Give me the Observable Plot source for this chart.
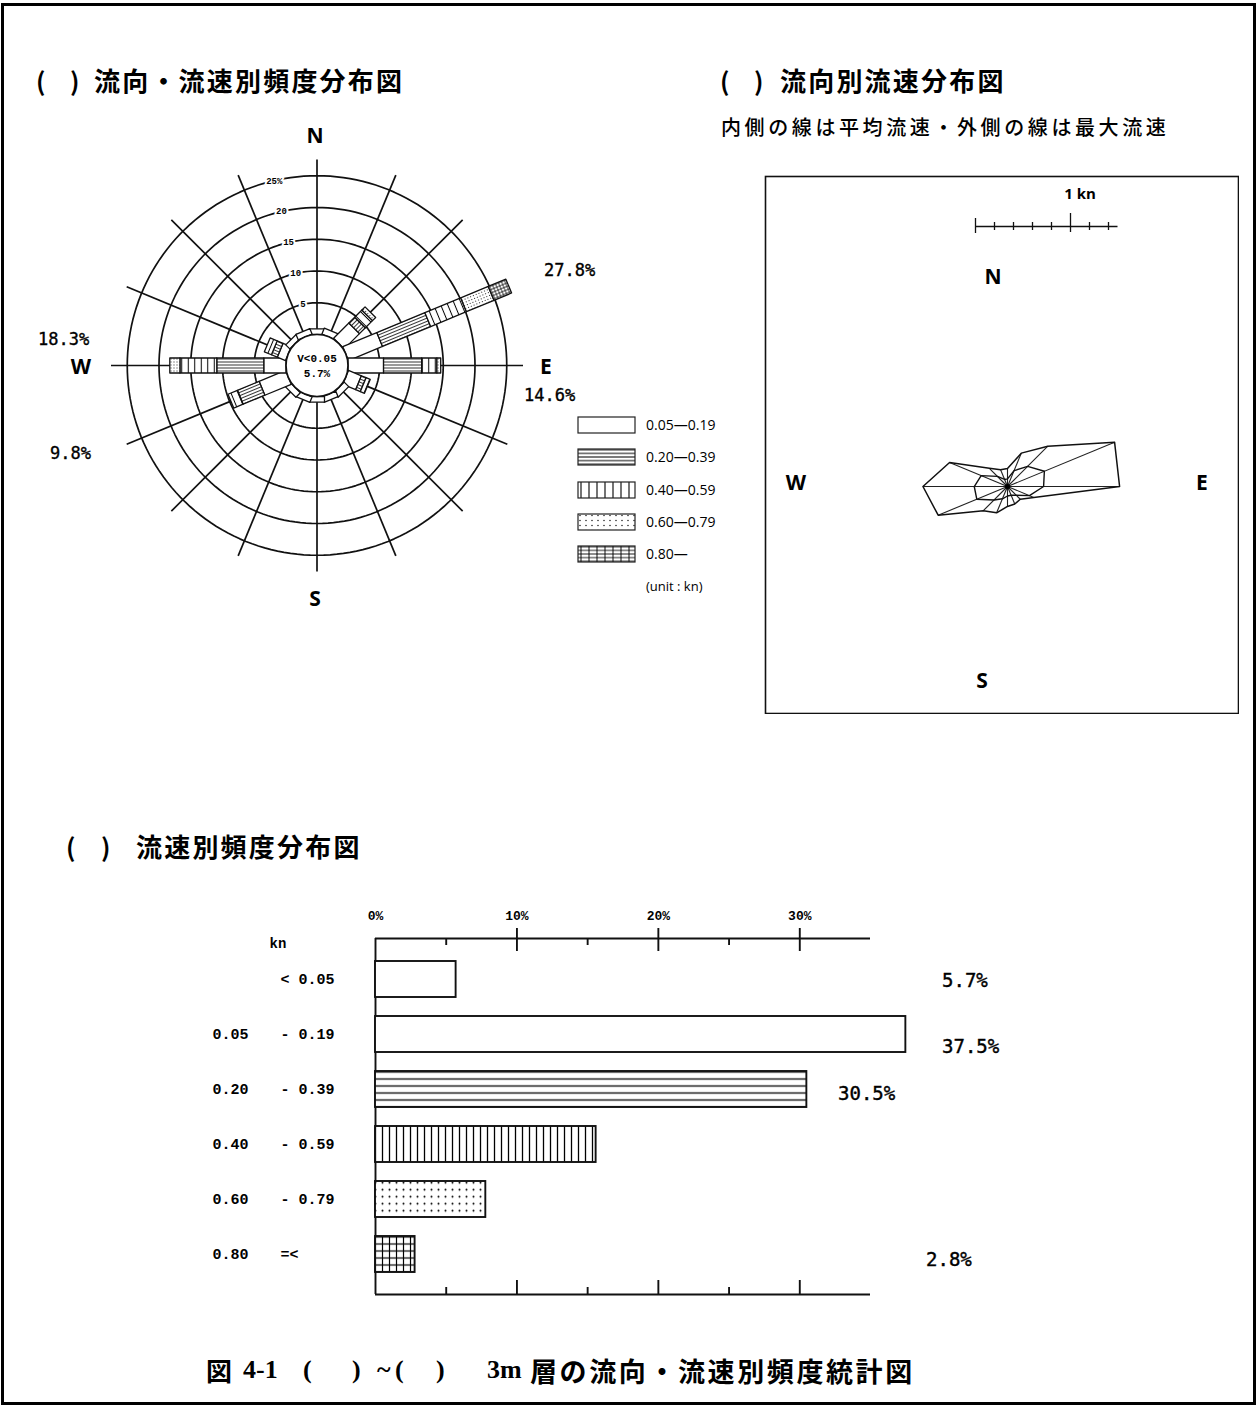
<!DOCTYPE html>
<html><head><meta charset="utf-8">
<script src="https://cdn.jsdelivr.net/npm/d3@7"></script>
<script src="https://cdn.jsdelivr.net/npm/@observablehq/plot@0.6"></script>
<style>
body{margin:0;background:#fff;}
#page{position:relative;width:1260px;height:1407px;background:#fff;overflow:hidden;font-family:"Noto Sans CJK JP","Noto Sans",sans-serif;color:#000;}
.abs{position:absolute;white-space:nowrap;line-height:1;}
#frame{position:absolute;left:1px;top:3px;width:1249px;height:1396px;border:3px solid #000;}
.title{font-family:"Noto Sans CJK JP";font-weight:700;font-size:26px;letter-spacing:2.2px;}
.paren{font-family:"Noto Sans CJK JP";font-weight:700;font-size:25px;}
.dir{font-family:"Noto Sans","Open Sans",sans-serif;font-weight:700;font-size:21px;}
.pct{font-family:"DejaVu Sans Mono",monospace;font-size:17px;-webkit-text-stroke:0.35px #000;}
.pct2{font-family:"DejaVu Sans Mono",monospace;font-size:19px;-webkit-text-stroke:0.4px #000;}
.leg{font-family:"Open Sans","Noto Sans",sans-serif;font-size:14px;}
.cap{font-family:"Liberation Serif","Noto Sans CJK JP",serif;font-weight:700;font-size:26px;}
</style></head><body><div id="page"><div id="frame"></div></div>
<script>
// ---------------- DATA ----------------
const directions = ["N","NNE","NE","ENE","E","ESE","SE","SSE","S","SSW","SW","WSW","W","WNW","NW","NNW"];
const directionAngles = [0,22.5,45,67.5,90,112.5,135,157.5,180,202.5,225,247.5,270,292.5,315,337.5];
const speedClasses = ["0.05\u20140.19","0.20\u20140.39","0.40\u20140.59","0.60\u20140.79","0.80\u2014"];
// frequency (%) per direction for each speed class
const freq005_019 = [0.9,1.0,3.4,5.8,5.6,2.2,1.0,0.9,0.9,0.9,1.0,4.5,3.5,1.4,0.9,0.9];
const freq020_039 = [0,0,1.3,8.2,6.0,0.8,0,0,0,0,0,3.7,7.4,1.0,0,0];
const freq040_059 = [0,0,1.6,6.1,2.4,0.7,0,0,0,0,0,1.6,5.8,1.2,0,0];
const freq060_079 = [0,0,0.7,4.7,0.6,0,0,0,0,0,0,0,1.6,0,0,0];
const freq080_up  = [0,0,0,3.0,0,0,0,0,0,0,0,0,0,0,0,0];
const calmLabel = "V<0.05";
const calmFreq = "5.7%";
const ringLevels = [5,10,15,20,25];
const ringLabels = ["5","10","15","20","25%"];
const roseDirLabels = ["27.8%","18.3%","14.6%","9.8%"];

// speed distribution by direction (kn)
const meanSpeed = [0.08,0.18,0.30,0.42,0.38,0.25,0.13,0.10,0.10,0.14,0.20,0.35,0.35,0.30,0.15,0.08];
const maxSpeed  = [0.19,0.38,0.60,1.22,1.18,0.30,0.19,0.20,0.21,0.30,0.36,0.79,0.89,0.66,0.27,0.19];
const scaleBarTicks = [0,0.2,0.4,0.6,0.8,1.0,1.2,1.4];
const scaleBarMax = 1.5;

// frequency by speed class
const speedLow  = ["","0.05","0.20","0.40","0.60","0.80"];
const speedHigh = ["< 0.05","- 0.19","- 0.39","- 0.59","- 0.79","=<"];
const speedFreq = [5.7,37.5,30.5,15.6,7.8,2.8];
const barAxisTicks = [0,10,20,30];
const barMinorTicks = [5,15,25];
const barPctLabels = ["5.7%","37.5%","30.5%","2.8%"];

// ---------------- HELPERS ----------------
const page = document.getElementById("page");
function place(txt, x, y, cls, anchor = "start", style = {}) {
  const d = document.createElement("div");
  d.className = "abs " + (cls || "");
  d.textContent = txt;
  d.style.left = x + "px"; d.style.top = y + "px";
  const tx = anchor === "middle" ? "-50%" : anchor === "end" ? "-100%" : "0";
  d.style.transform = `translate(${tx}, -50%)`;
  Object.assign(d.style, style);
  page.appendChild(d);
  return d;
}
function mount(svg, x, y) {
  svg.style.position = "absolute"; svg.style.left = x + "px"; svg.style.top = y + "px";
  page.appendChild(svg);
}

// ---------------- PATTERNS ----------------
const defs = d3.select(page).append("svg").attr("width", 0).attr("height", 0)
  .style("position", "absolute").append("defs");
function pat(id, w, h, rot, draw, ox = 0, oy = 0) {
  const p = defs.append("pattern").attr("id", id).attr("patternUnits", "userSpaceOnUse")
    .attr("width", w).attr("height", h).attr("x", ox).attr("y", oy);
  if (rot) p.attr("patternTransform", `rotate(${rot})`);
  p.append("rect").attr("width", w).attr("height", h).attr("fill", "white");
  draw(p, w, h);
}
const hLines = sw => (p, w, h) => p.append("line").attr("x1", 0).attr("x2", w).attr("y1", h / 2).attr("y2", h / 2).attr("stroke", "#000").attr("stroke-width", sw);
const vLines = sw => (p, w, h) => p.append("line").attr("y1", 0).attr("y2", h).attr("x1", w / 2).attr("x2", w / 2).attr("stroke", "#000").attr("stroke-width", sw);
const dots = r => (p, w, h) => p.append("circle").attr("cx", w / 2).attr("cy", h / 2).attr("r", r).attr("fill", "#000");
const grid = sw => (p, w, h) => { hLines(sw)(p, w, h); vLines(sw)(p, w, h); };
const patKinds = ["hl", "vl", "dt", "gr"];
// rose patterns, rotated with each direction
directionAngles.forEach((a, i) => {
  const rot = a - 90;
  pat(`r-hl-${i}`, 10, 3, rot, hLines(0.8));
  pat(`r-vl-${i}`, 6.5, 10, rot, vLines(1.0));
  pat(`r-dt-${i}`, 3, 3, rot, dots(0.55));
  pat(`r-gr-${i}`, 3.2, 3.2, rot, grid(0.7));
});
// bar chart patterns
pat("b-hl", 10, 7, 0, hLines(1.3), 0, -1.5);
pat("b-vl", 7, 10, 0, vLines(1.3));
pat("b-dt", 7, 7, 0, dots(1.0), 0, -2.8);
pat("b-gr", 7, 7, 0, grid(1.2), 0, 2.5);
// legend patterns
pat("l-hl", 10, 3.6, 0, hLines(1.0));
pat("l-vl", 8, 10, 0, vLines(1.1));
pat("l-dt", 6, 5, 0, dots(0.7));
pat("l-gr", 8, 3.6, 0, grid(0.9));

// ---------------- TITLES ----------------
place("(", 36, 80, "paren"); place(")", 70, 80, "paren");
place("流向・流速別頻度分布図", 94, 80, "title");
place("(", 720, 80, "paren"); place(")", 754, 80, "paren");
place("流向別流速分布図", 780, 80, "title");
place("内側の線は平均流速・外側の線は最大流速", 721, 127, "", "start", {fontSize: "20px", letterSpacing: "3.6px", fontFamily: "Noto Sans CJK JP", fontWeight: 500});
place("(", 66, 846, "paren"); place(")", 101, 846, "paren");
place("流速別頻度分布図", 136, 846, "title");

// ---------------- WIND-ROSE STYLE CHART ----------------
{
  const RW = 470, RH = 500, cx = 216.5, cy = 245, k = 6.35;
  const calmR = 31 / k, outerR = 206 / k, hw = 7.5 / k;
  const rad = a => a * Math.PI / 180;
  const pt = (r, a, off = 0) => ({x: r * Math.sin(rad(a)) + off * Math.cos(rad(a)), y: r * Math.cos(rad(a)) - off * Math.sin(rad(a))});
  const ringPts = ringLevels.flatMap(p => d3.range(0, 361, 2).map(a => ({level: p, ...pt(calmR + p, a)})));
  const classes = [freq005_019, freq020_039, freq040_059, freq060_079, freq080_up];
  const segMarks = [];
  directionAngles.forEach((a, i) => {
    let cum = calmR;
    classes.forEach((arr, c) => {
      const v = arr[i];
      if (!(v > 0)) return;
      const r0 = cum, r1 = cum + v;
      cum = r1;
      const poly = [pt(r0, a, -hw), pt(r1, a, -hw), pt(r1, a, hw), pt(r0, a, hw), pt(r0, a, -hw)];
      const fill = c === 0 ? "white" : `url(#r-${patKinds[c - 1]}-${i})`;
      segMarks.push(Plot.line(poly, {x: "x", y: "y", fill, stroke: "#111", strokeWidth: 1.3}));
    });
  });
  const rose = Plot.plot({
    width: RW, height: RH, margin: 0,
    x: {domain: [-cx / k, (RW - cx) / k], range: [0, RW], axis: null},
    y: {domain: [-(RH - cy) / k, cy / k], range: [RH, 0], axis: null},
    style: {background: "transparent", overflow: "visible"},
    marks: [
      Plot.line(ringPts, {x: "x", y: "y", z: "level", stroke: "#111", strokeWidth: 1.7}),
      Plot.link(directionAngles, {
        x1: a => pt(calmR, a).x, y1: a => pt(calmR, a).y,
        x2: a => pt(outerR, a).x, y2: a => pt(outerR, a).y,
        stroke: "#111", strokeWidth: 1.7
      }),
      ...segMarks,
      Plot.dot([calmR], {x: () => 0, y: () => 0, r: calmR * k, fill: "white", stroke: "#111", strokeWidth: 1.7}),
      Plot.text([calmLabel], {x: () => 0, y: () => 0, dy: -7, text: d => d, fontSize: 11, fontWeight: "bold", fontFamily: "Liberation Mono"}),
      Plot.text([calmFreq], {x: () => 0, y: () => 0, dy: 8, text: d => d, fontSize: 11, fontWeight: "bold", fontFamily: "Liberation Mono"}),
      Plot.text(ringLevels, {
        x: p => pt(calmR + p, -13).x, y: p => pt(calmR + p, -13).y,
        text: (p, i) => ringLabels[i], fontSize: 9, fontWeight: "bold", fontFamily: "Liberation Mono",
        fill: "#000", stroke: "white", strokeWidth: 4
      })
    ]
  });
  mount(rose, 100, 120);
  place("N", 315, 135, "dir", "middle");
  place("S", 315, 598, "dir", "middle");
  place("W", 81, 366, "dir", "middle");
  place("E", 546, 366, "dir", "middle");
  place(roseDirLabels[0], 544, 270, "pct");
  place(roseDirLabels[1], 38, 339, "pct");
  place(roseDirLabels[2], 524, 395, "pct");
  place(roseDirLabels[3], 50, 453, "pct");
}

// ---------------- LEGEND ----------------
{
  const fills = ["white", "url(#l-hl)", "url(#l-vl)", "url(#l-dt)", "url(#l-gr)"];
  const ys = [425, 457, 490, 522, 554];
  speedClasses.forEach((s, i) => {
    const svg = d3.select(page).append("svg").attr("width", 60).attr("height", 19)
      .style("position", "absolute").style("left", "577px").style("top", (ys[i] - 9) + "px");
    svg.append("rect").attr("x", 1).attr("y", 1).attr("width", 57).attr("height", 16)
      .attr("fill", fills[i]).attr("stroke", "#222").attr("stroke-width", 1.2);
    place(s, 646, ys[i], "leg");
  });
  place("(unit : kn)", 646, 586, "leg", "start", {fontSize: "13px"});
}

// ---------------- CURRENT SPEED BY DIRECTION ----------------
{
  const W = 475, H = 539, cx = 243, cy = 311, k = 95;
  const rad = a => a * Math.PI / 180;
  const pt = (r, a) => ({x: r * Math.sin(rad(a)), y: r * Math.cos(rad(a))});
  const outer = [...maxSpeed, maxSpeed[0]].map((v, i) => pt(v, directionAngles[i % 16]));
  const inner = [...meanSpeed, meanSpeed[0]].map((v, i) => pt(v, directionAngles[i % 16]));
  const sx = (975 - 1007) / k, sy = (486 - 226) / k;   // scale bar origin
  const px = v => v / k;
  const plot = Plot.plot({
    width: W, height: H, margin: 0,
    x: {domain: [-cx / k, (W - cx) / k], range: [0, W], axis: null},
    y: {domain: [-(H - cy) / k, cy / k], range: [H, 0], axis: null},
    marks: [
      Plot.frame({stroke: "#111", strokeWidth: 1.6, inset: 1}),
      Plot.link(maxSpeed, {x1: () => 0, y1: () => 0, x2: (v, i) => pt(v, directionAngles[i]).x, y2: (v, i) => pt(v, directionAngles[i]).y, stroke: "#222", strokeWidth: 1.1}),
      Plot.line(inner, {x: "x", y: "y", stroke: "#111", strokeWidth: 1.4}),
      Plot.line(outer, {x: "x", y: "y", stroke: "#111", strokeWidth: 1.5}),
      Plot.dot([0], {x: () => 0, y: () => 0, r: 2.5, fill: "#000"}),
      // scale bar
      Plot.ruleY([sy], {x1: () => sx, x2: () => sx + scaleBarMax, stroke: "#111", strokeWidth: 1.3}),
      Plot.ruleX(scaleBarTicks, {
        x: d => sx + d,
        y1: d => sy + (d === 0 ? px(8) : d === 1 ? px(13) : px(4)),
        y2: d => sy - (d === 0 ? px(7) : d === 1 ? px(6) : px(4)),
        stroke: "#111", strokeWidth: 1.3
      })
    ]
  });
  mount(plot, 764, 175);
  place("1 kn", 1080, 193, "", "middle", {fontFamily: "Open Sans", fontWeight: 700, fontSize: "15px"});
  place("N", 993, 276, "dir", "middle");
  place("W", 796, 482, "dir", "middle");
  place("E", 1202, 482, "dir", "middle");
  place("S", 982, 680, "dir", "middle");
}

// ---------------- FREQUENCY BY SPEED CLASS ----------------
{
  const BW = 830, BH = 420;
  const row = 55;                       // px per row unit
  const topY = (938 - 979) / row, botY = (1294 - 979) / row, half = 18 / row;
  const fills = ["white", "white", "url(#b-hl)", "url(#b-vl)", "url(#b-dt)", "url(#b-gr)"];
  const rows = speedFreq.map((v, i) => ({i, v, lo: speedLow[i], hi: speedHigh[i]}));
  const bar = Plot.plot({
    width: BW, height: BH, margin: 0,
    x: {domain: [0, 35], range: [185, 680], axis: null},
    y: {domain: [0, 5], range: [84, 359], axis: null},
    marks: [
      Plot.ruleY([topY, botY], {x1: () => 0, x2: () => 35, stroke: "#111", strokeWidth: 1.9}),
      Plot.ruleX([0], {y1: () => topY, y2: () => botY, stroke: "#111", strokeWidth: 1.9}),
      Plot.ruleX(barAxisTicks.filter(d => d > 0), {y1: () => topY - 10 / row, y2: () => topY + 13 / row, stroke: "#111", strokeWidth: 1.9}),
      Plot.ruleX(barMinorTicks, {y1: () => topY, y2: () => topY + 7 / row, stroke: "#111", strokeWidth: 1.9}),
      Plot.ruleX(barAxisTicks.filter(d => d > 0), {y1: () => botY - 14 / row, y2: () => botY, stroke: "#111", strokeWidth: 1.9}),
      Plot.ruleX(barMinorTicks, {y1: () => botY - 7 / row, y2: () => botY, stroke: "#111", strokeWidth: 1.9}),
      Plot.text(barAxisTicks, {x: d => d, y: () => topY, dy: -23, text: d => d + "%", fontSize: 13, fontWeight: "bold", fontFamily: "Liberation Mono"}),
      ...rows.map(r => Plot.rect([r], {x1: () => 0, x2: d => d.v, y1: d => d.i - half, y2: d => d.i + half, fill: fills[r.i], stroke: "#111", strokeWidth: 1.9})),
      Plot.text(rows, {y: "i", frameAnchor: "left", dx: 22, text: "lo", textAnchor: "start", fontSize: 15, fontWeight: "bold", fontFamily: "Liberation Mono"}),
      Plot.text(rows, {y: "i", frameAnchor: "left", dx: 90, text: "hi", textAnchor: "start", fontSize: 15, fontWeight: "bold", fontFamily: "Liberation Mono"})
    ]
  });
  mount(bar, 190, 895);
  place("kn", 278, 944, "", "middle", {fontFamily: "Liberation Mono", fontWeight: 700, fontSize: "14px"});
  place(barPctLabels[0], 942, 980, "pct2");
  place(barPctLabels[1], 942, 1046, "pct2");
  place(barPctLabels[2], 838, 1093, "pct2");
  place(barPctLabels[3], 926, 1259, "pct2");
}

// ---------------- CAPTION ----------------
place("図", 206, 1370, "cap", "start", {fontFamily: "Noto Sans CJK JP", fontSize: "26px"});
place("4-1", 243, 1370, "cap");
place("(", 303, 1370, "cap"); place(")", 352, 1370, "cap");
place("~", 377, 1370, "cap");
place("(", 395, 1370, "cap"); place(")", 436, 1370, "cap");
place("3m", 487, 1370, "cap");
place("層の流向・流速別頻度統計図", 530, 1370, "cap", "start", {fontFamily: "Noto Sans CJK JP", fontSize: "27px", letterSpacing: "2.6px"});
</script></body></html>
